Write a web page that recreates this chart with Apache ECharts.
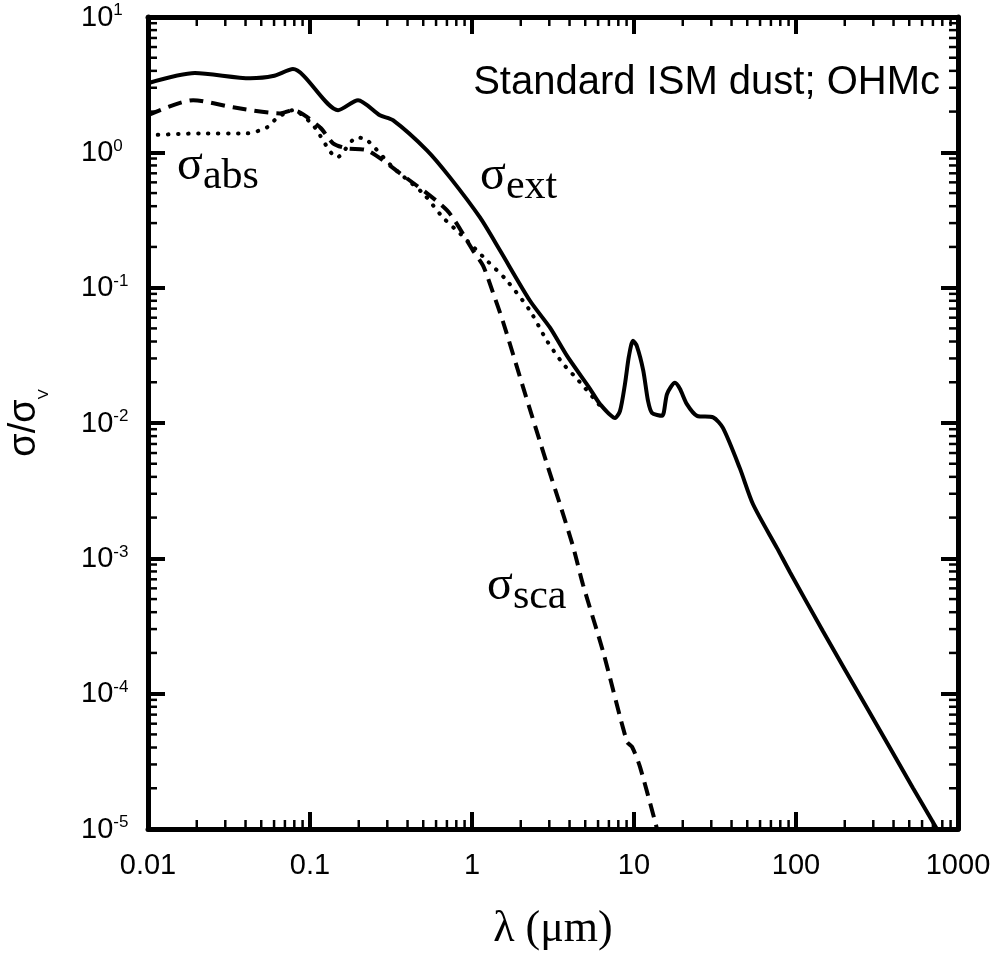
<!DOCTYPE html>
<html>
<head>
<meta charset="utf-8">
<script src="https://cdn.jsdelivr.net/npm/echarts@6/dist/echarts.min.js"></script>
<style>
html,body{margin:0;padding:0;background:#fff;}
#chart{width:1000px;height:958px;}
</style>
</head>
<body>
<div id="chart"></div>
<script>
// ---- Data (wavelength in micron, cross section relative to V band) ----
const extLambda = [0.01, 0.0195, 0.0427, 0.0591, 0.0785, 0.149, 0.198, 0.270, 0.325, 0.527, 0.731, 1.12, 1.49, 2.28, 3.03, 3.86, 5.35, 6.17, 7.64, 8.2, 8.8, 9.31, 9.86, 10.4, 11.4, 12.2, 12.9, 14.9, 16.0, 17.9, 19.2, 21.2, 24.5, 30.8, 35.4, 45.0, 54.3, 76.4, 91.8, 147, 274, 527, 741];
const extSigma  = [3.24, 3.85, 3.53, 3.66, 4.12, 2.05, 2.43, 1.88, 1.73, 1.035, 0.653, 0.330, 0.188, 0.080, 0.0506, 0.0313, 0.0179, 0.0138, 0.0109, 0.0123, 0.0195, 0.0313, 0.0405, 0.0372, 0.0245, 0.0146, 0.0119, 0.0113, 0.0164, 0.0198, 0.0179, 0.0138, 0.0113, 0.0110, 0.0092, 0.00464, 0.00251, 0.00119, 0.00079, 0.000288, 0.0000787, 0.0000201, 0.00001];

const scaLambda = [0.01, 0.019, 0.0335, 0.0653, 0.0785, 0.1153, 0.1387, 0.169, 0.225, 0.36, 0.702, 1.014, 1.17, 1.348, 1.554, 2.064, 2.904, 3.49, 4.20, 4.84, 6.44, 9.05, 9.72, 10.89, 13.87];
const scaSigma  = [1.88, 2.43, 2.15, 1.94, 2.05, 1.53, 1.166, 1.07, 1.035, 0.699, 0.372, 0.188, 0.1455, 0.0918, 0.056, 0.0185, 0.00497, 0.00251, 0.00123, 0.000641, 0.000205, 0.0000441, 0.0000405, 0.0000288, 0.00001];

const absLambda = [0.01, 0.0209, 0.0408, 0.0543, 0.0625, 0.0785, 0.1045, 0.147, 0.195, 0.225, 0.325, 0.499, 0.662, 0.843, 1.24, 1.64, 2.28, 2.90, 3.65, 4.45, 6.17];
const absSigma  = [1.337, 1.38, 1.38, 1.53, 1.79, 2.05, 1.585, 0.918, 1.29, 1.23, 0.774, 0.497, 0.330, 0.251, 0.158, 0.113, 0.0676, 0.0405, 0.0274, 0.0212, 0.0134];

const xTickLabels = ['0.01', '0.1', '1', '10', '100', '1000'];
const yTickExponents = ['-5', '-4', '-3', '-2', '-1', '0', '1'];
const X_MIN = 0.01, X_MAX = 1000, Y_MIN = 1e-5, Y_MAX = 10;

function pairs(xs, ys) { return xs.map((x, i) => [x, ys[i]]); }

// minor tick values (2..9 x 10^k) for the log axes
const mantissas = [2, 3, 4, 5, 6, 7, 8, 9];
const xDecades = [0.01, 0.1, 1, 10, 100];
const yDecades = [1e-5, 1e-4, 1e-3, 1e-2, 1e-1, 1];
const minorData = [];
xDecades.forEach(d => mantissas.forEach(m => minorData.push([d * m, Y_MIN, 0])));
yDecades.forEach(d => mantissas.forEach(m => minorData.push([X_MIN, d * m, 1])));

const SANS = 'Liberation Sans, Arial, sans-serif';
const SERIF = 'Liberation Serif, Times New Roman, serif';
const AXIS_W = 5, MAJOR_LEN = 17, MAJOR_W = 4, MINOR_LEN = 9, MINOR_W = 2.5;

function decadeIndex(v, base) { return Math.round(Math.log10(v) - base); }

const chart = echarts.init(document.getElementById('chart'), null, { renderer: 'canvas' });

const commonX = {
  type: 'log', logBase: 10, min: X_MIN, max: X_MAX, splitNumber: 5,
  axisLine: { show: true, lineStyle: { color: '#000', width: AXIS_W } },
  axisTick: { show: true, inside: true, length: MAJOR_LEN, lineStyle: { color: '#000', width: MAJOR_W } },
  splitLine: { show: false },
  minorTick: { show: false }
};
const commonY = {
  type: 'log', logBase: 10, min: Y_MIN, max: Y_MAX, splitNumber: 6,
  axisLine: { show: true, lineStyle: { color: '#000', width: AXIS_W } },
  axisTick: { show: true, inside: true, length: MAJOR_LEN, lineStyle: { color: '#000', width: MAJOR_W } },
  splitLine: { show: false },
  minorTick: { show: false }
};

function sigmaLabel(sub) {
  return {
    text: '{s|σ}{t|' + sub + '}', fill: '#000', verticalAlign: 'top', align: 'left',
    rich: {
      s: { fontSize: 48, fontFamily: SERIF, fill: '#000', lineHeight: 48, verticalAlign: 'top' },
      t: { fontSize: 42, fontFamily: SERIF, fill: '#000', lineHeight: 56, verticalAlign: 'bottom' }
    }
  };
}

const option = {
  animation: false,
  backgroundColor: '#fff',
  grid: { left: 148, right: 42, top: 17, bottom: 129, containLabel: false, outerBoundsMode: 'none' },
  xAxis: [
    Object.assign({}, commonX, {
      position: 'bottom',
      axisLabel: {
        margin: 22, fontSize: 29, fontFamily: SANS, color: '#000',
        formatter: v => xTickLabels[decadeIndex(v, -2)]
      },
      name: 'λ (μm)', nameLocation: 'middle', nameGap: 78,
      nameTextStyle: { fontFamily: SERIF, fontSize: 44, color: '#000' }
    }),
    Object.assign({}, commonX, { position: 'top', axisLabel: { show: false } })
  ],
  yAxis: [
    Object.assign({}, commonY, {
      position: 'left',
      axisLabel: {
        margin: 67, align: 'left', color: '#000', fontFamily: SANS, fontSize: 28,
        formatter: v => '{b|10}{s|' + yTickExponents[decadeIndex(v, -5)] + '}',
        rich: {
          b: { fontSize: 29, fontFamily: SANS, color: '#000', lineHeight: 30, verticalAlign: 'bottom' },
          s: { fontSize: 17, fontFamily: SANS, color: '#000', lineHeight: 17, verticalAlign: 'top' }
        }
      },
      name: '{a|σ/σ}{v|V}', nameLocation: 'middle', nameRotate: 90, nameGap: 97,
      nameTextStyle: {
        color: '#000', fontFamily: SANS, fontSize: 38,
        rich: {
          a: { fontSize: 38, fontFamily: SANS, color: '#000', lineHeight: 38, verticalAlign: 'top' },
          v: { fontSize: 15, fontFamily: SANS, color: '#000', lineHeight: 45, verticalAlign: 'bottom' }
        }
      }
    }),
    Object.assign({}, commonY, { position: 'right', axisLabel: { show: false } })
  ],
  series: [
    {
      name: 'sigma_abs', type: 'line', data: pairs(absLambda, absSigma),
      showSymbol: false, smooth: 0.25, clip: true,
      lineStyle: { color: '#000', width: 4, type: [0.5, 9.5], cap: 'round' }, z: 3
    },
    {
      name: 'sigma_sca', type: 'line', data: pairs(scaLambda, scaSigma),
      showSymbol: false, smooth: 0.25, clip: true,
      lineStyle: { color: '#000', width: 4, type: [14, 8], cap: 'butt' }, z: 4
    },
    {
      name: 'sigma_ext', type: 'line', data: pairs(extLambda, extSigma),
      showSymbol: false, smooth: 0.25, clip: true,
      lineStyle: { color: '#000', width: 4, type: 'solid' }, z: 5
    },
    {
      name: 'minorTicks', type: 'custom', coordinateSystem: 'cartesian2d',
      xAxisIndex: 0, yAxisIndex: 0, silent: true, clip: false, z: 6,
      data: minorData,
      renderItem: function (params, api) {
        const kind = api.value(2);
        const st = { stroke: '#000', lineWidth: MINOR_W };
        if (kind === 0) {
          const v = api.value(0);
          const b = api.coord([v, Y_MIN]);
          const t = api.coord([v, Y_MAX]);
          return { type: 'group', children: [
            { type: 'line', shape: { x1: b[0], y1: b[1], x2: b[0], y2: b[1] - MINOR_LEN }, style: st },
            { type: 'line', shape: { x1: t[0], y1: t[1], x2: t[0], y2: t[1] + MINOR_LEN }, style: st }
          ]};
        } else {
          const v = api.value(1);
          const l = api.coord([X_MIN, v]);
          const r = api.coord([X_MAX, v]);
          return { type: 'group', children: [
            { type: 'line', shape: { x1: l[0], y1: l[1], x2: l[0] + MINOR_LEN, y2: l[1] }, style: st },
            { type: 'line', shape: { x1: r[0], y1: r[1], x2: r[0] - MINOR_LEN, y2: r[1] }, style: st }
          ]};
        }
      }
    }
  ],
  graphic: [
    {
      type: 'text', x: 940, y: 83,
      style: { text: 'Standard ISM dust; OHMc', font: '40px ' + SANS, fill: '#000', align: 'right', verticalAlign: 'middle' }
    },
    { type: 'text', x: 177, y: 142, style: sigmaLabel('abs') },
    { type: 'text', x: 480, y: 152, style: sigmaLabel('ext') },
    { type: 'text', x: 487, y: 562, style: sigmaLabel('sca') }
  ]
};
chart.setOption(option);
</script>
</body>
</html>
